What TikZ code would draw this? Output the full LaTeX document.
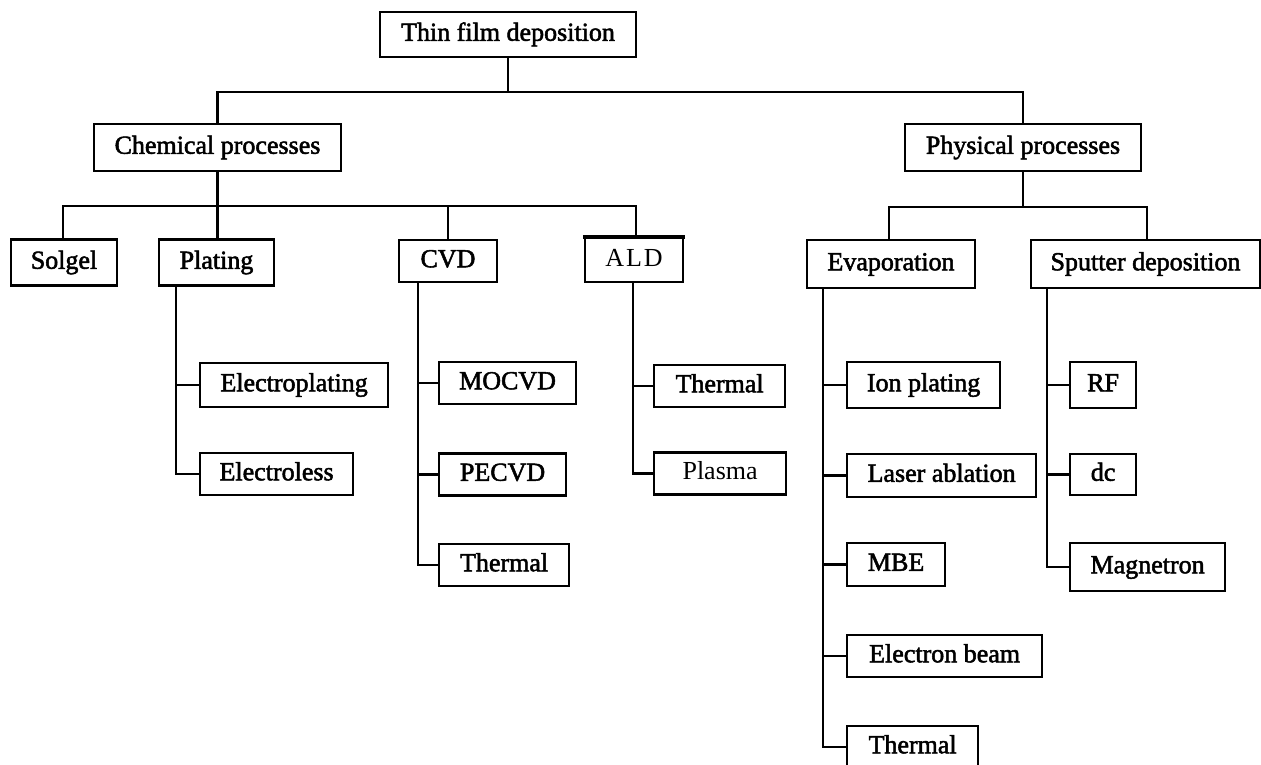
\documentclass[tikz,border=0pt]{standalone}
\usepackage{fontspec}
\setmainfont[FakeBold=2]{Liberation Serif}
\newfontfamily\thinfont{Liberation Serif}
\begin{document}
\begin{tikzpicture}[x=1pt,y=-1pt,
  base/.style={draw, line width=2.2pt, inner sep=0pt, font=\fontsize{26}{30}\selectfont,
    text height=17.5pt, text depth=5pt},
  bx/.style 2 args={base, minimum width=#1pt, minimum height=#2pt},
  cb/.style 2 args={bx={#1}{#2}, anchor=west},
  ln/.style={line width=2.2pt}]
\useasboundingbox (0,0) rectangle (1261,764);
\fill[white] (0,0) rectangle (1261,764);
% level 0-2
\node[bx={256}{45}] (top) at (508,34.5) {Thin film deposition};
\node[bx={247}{47}] (chem) at (217.5,147.5) {Chemical processes};
\node[bx={236}{47}] (phys) at (1023,147.5) {Physical processes};
\node[bx={106}{46}] (solgel) at (64,262.5) {Solgel};
\node[bx={115}{46}] (plating) at (216.5,262.5) {Plating};
\node[bx={98}{42}] (cvd) at (448,261) {CVD};
\node[bx={98}{44}] (ald) at (634,260) {\thinfont A\kern2pt L\kern2pt D};
\node[bx={168}{48}] (evap) at (891,264) {Evaporation};
\node[bx={229}{48}] (sput) at (1145.5,264) {Sputter deposition};
% leaves
\node[cb={188}{44}] (elp) at (199,385) {Electroplating};
\node[cb={153}{42}] (els) at (199,474) {Electroless};
\node[cb={137}{42}] (mocvd) at (438,383) {MOCVD};
\node[cb={127}{42}] (pecvd) at (438,474.5) {PECVD};
\node[cb={130}{42}] (cth) at (438,565) {Thermal};
\node[cb={131}{42}] (ath) at (653,386) {Thermal};
\node[cb={132}{42}] (plasma) at (653,473.5) {\thinfont Plasma};
\node[cb={153}{46}] (ion) at (846,385) {Ion plating};
\node[cb={189}{43}] (laser) at (846,475.5) {Laser ablation};
\node[cb={98}{43}] (mbe) at (846,564.5) {MBE};
\node[cb={195}{42}] (ebeam) at (846,656) {Electron beam};
\node[cb={131}{42}] (eth) at (846,747) {Thermal};
\node[cb={66}{46}] (rf) at (1069,385) {RF};
\node[cb={66}{41}] (dc) at (1069,474.5) {dc};
\node[cb={155}{48}] (mag) at (1069,567) {Magnetron};
\draw[line width=3.6pt] ([xshift=-1.1pt]ald.north west) -- ([xshift=1.1pt]ald.north east);
% buses
\coordinate (mb) at (508,92);
\coordinate (cbus) at (0,206);
\coordinate (pbus) at (0,207);
\draw[ln] (top.south) -- (mb);
\draw[ln] (chem.north) -- (chem.north |- mb) -- (phys.north |- mb) -- (phys.north);
\draw[ln] (chem.south) -- (chem.south |- plating.north);
\draw[ln] ([xshift=-1pt]solgel.north) -- ([xshift=-1pt]solgel.north |- cbus) -- ([xshift=2pt]ald.north |- cbus) -- ([xshift=2pt]ald.north);
\draw[ln] (cvd.north) -- (cvd.north |- cbus);
\draw[ln] (phys.south) -- (phys.south |- pbus);
\draw[ln] ([xshift=-2pt]evap.north) -- ([xshift=-2pt]evap.north |- pbus) -- ([xshift=1.5pt]sput.north |- pbus) -- ([xshift=1.5pt]sput.north);
% spines
\draw[ln] ([xshift=-23pt]elp.west |- plating.south) |- (elp.west);
\draw[ln] ([xshift=-23pt]els.west |- plating.south) |- (els.west);
\draw[ln] ([xshift=-20pt]mocvd.west |- cvd.south) |- (mocvd.west);
\draw[ln] ([xshift=-20pt]pecvd.west |- cvd.south) |- (pecvd.west);
\draw[ln] ([xshift=-20pt]cth.west |- cvd.south) |- (cth.west);
\draw[ln] ([xshift=-20pt]ath.west |- ald.south) |- (ath.west);
\draw[ln] ([xshift=-20pt]plasma.west |- ald.south) |- (plasma.west);
\draw[ln] ([xshift=-23pt]ion.west |- evap.south) |- (ion.west);
\draw[ln] ([xshift=-23pt]laser.west |- evap.south) |- (laser.west);
\draw[ln] ([xshift=-23pt]mbe.west |- evap.south) |- (mbe.west);
\draw[ln] ([xshift=-23pt]ebeam.west |- evap.south) |- (ebeam.west);
\draw[ln] ([xshift=-23pt]eth.west |- evap.south) |- (eth.west);
\draw[ln] ([xshift=-22pt]rf.west |- sput.south) |- (rf.west);
\draw[ln] ([xshift=-22pt]dc.west |- sput.south) |- (dc.west);
\draw[ln] ([xshift=-22pt]mag.west |- sput.south) |- (mag.west);
\end{tikzpicture}
\end{document}
